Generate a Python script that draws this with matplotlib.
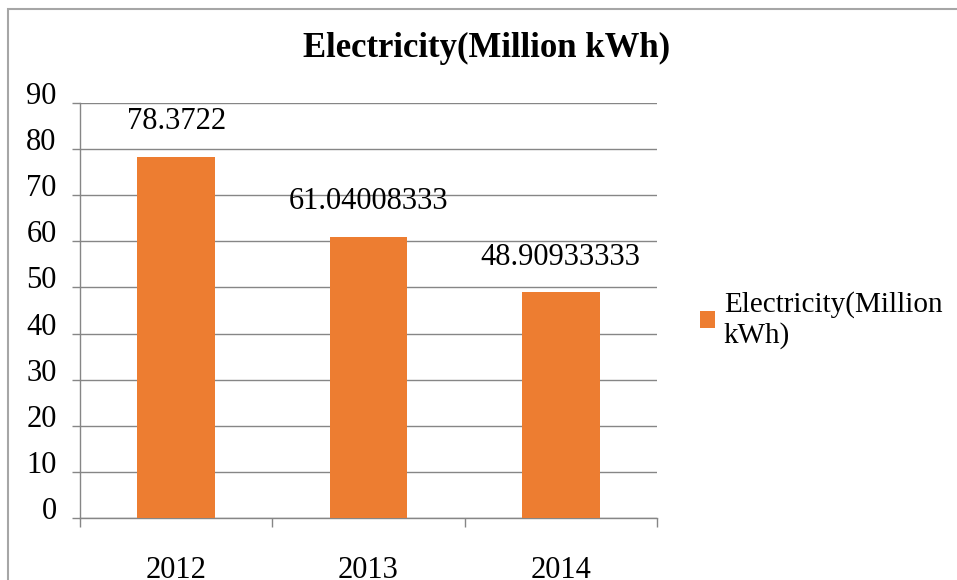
import matplotlib.pyplot as plt
from matplotlib.patches import Rectangle
from matplotlib.transforms import ScaledTranslation

years = ["2012", "2013", "2014"]
electricity = [78.3722, 61.04008333, 48.90933333]
value_labels = ["78.3722", "61.04008333", "48.90933333"]
y_ticks = list(range(0, 91, 10))

plt.rcParams['font.family'] = ['Liberation Serif', 'DejaVu Serif']

fig = plt.figure(figsize=(9.57, 5.8), dpi=100)
ax = fig.add_axes([80 / 957, 1 - 518 / 580, 577 / 957, 415 / 580])

x = list(range(len(years)))
ax.bar(x, electricity, width=0.405, color='#ED7D31',
       label='Electricity(Million\nkWh)', zorder=3)

ax.set_xlim(-0.5, 2.5)
ax.set_ylim(0, 90)
ax.set_yticks(y_ticks)
ax.set_xticks(x)
ax.set_xticklabels(years)
ax.set_xticks([-0.5, 0.5, 1.5, 2.5], minor=True)

grey = '#868686'
ax.yaxis.grid(True, color=grey, lw=1)
ax.set_axisbelow(True)
for side in ['top', 'right']:
    ax.spines[side].set_visible(False)
for side in ['left', 'bottom']:
    ax.spines[side].set_color(grey)
    ax.spines[side].set_linewidth(1)

ax.tick_params(axis='y', length=5.8, width=1, color=grey, pad=11, labelsize=22)
ax.tick_params(axis='x', which='major', length=0, pad=27, labelsize=22)
ax.tick_params(axis='x', which='minor', length=6.5, width=1, color=grey)

# y labels sit a little above their gridlines
shift = ScaledTranslation(0, 10 / 100, fig.dpi_scale_trans)
for lab in ax.get_yticklabels():
    lab.set_transform(lab.get_transform() + shift)

# value labels above the bars
for xi, v, s in zip(x, electricity, value_labels):
    ax.annotate(s, (xi, v), xytext=(0, 20), textcoords='offset points',
                ha='center', va='baseline', fontsize=22)

fig.text(487 / 957, 1 - 48 / 580, 'Electricity(Million kWh)',
         ha='center', va='center', fontsize=25, fontweight='bold')

ax.legend(loc='center left', bbox_to_anchor=(700 / 957, 1 - 320 / 580),
          bbox_transform=fig.transFigure, frameon=False, fontsize=21,
          handlelength=0.52, handleheight=0.52, handletextpad=0.3,
          borderaxespad=0, borderpad=0)

# chart area border (right/bottom fall outside the image)
fig.add_artist(Rectangle((8 / 957, -0.2), 2, 1.2 - 9 / 580,
                         transform=fig.transFigure, fill=False,
                         edgecolor='#a6a6a6', lw=1.5, clip_on=False))

fig.savefig('out.png', dpi=100)
